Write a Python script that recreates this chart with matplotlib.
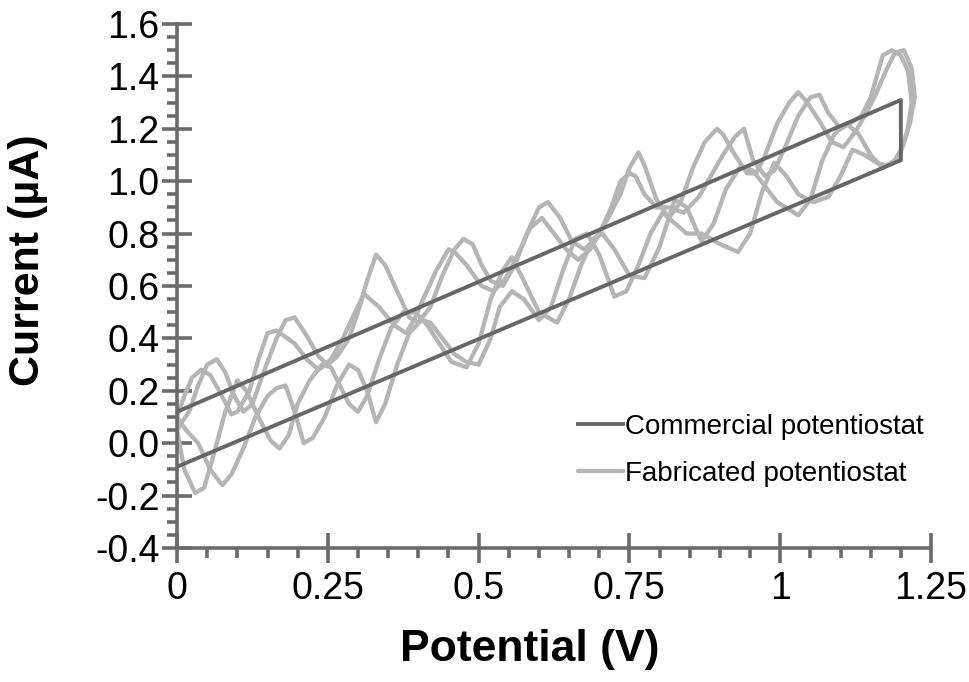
import matplotlib
matplotlib.use("Agg")
import matplotlib.pyplot as plt
from matplotlib.ticker import MultipleLocator, FixedLocator

plt.rcParams['font.family'] = ['Liberation Sans', 'DejaVu Sans']

# Commercial potentiostat: forward and reverse sweep
comm_v = [0.0, 1.2, 1.2, 0.0]
comm_i = [-0.09, 1.08, 1.31, 0.12]

# Fabricated potentiostat, cycle 1 forward sweep
fwd1_v = [0.000, 0.012, 0.030, 0.045, 0.060, 0.080, 0.100, 0.115, 0.135, 0.155, 0.170, 0.185,
          0.200, 0.220, 0.240, 0.255, 0.270, 0.285, 0.300, 0.315, 0.335, 0.355, 0.375, 0.395,
          0.415, 0.435, 0.455, 0.480, 0.500, 0.520, 0.540, 0.555, 0.575, 0.600, 0.630, 0.650,
          0.670, 0.690, 0.705, 0.725, 0.750, 0.775, 0.800, 0.825, 0.845, 0.860, 0.870, 0.890,
          0.910, 0.935, 0.955, 0.975, 0.995, 1.030, 1.050, 1.070, 1.090, 1.110, 1.130, 1.150,
          1.170, 1.190, 1.200]
fwd1_i = [0.05, -0.10, -0.19, -0.17, -0.05, 0.12, 0.24, 0.20, 0.10, 0.01, -0.02, 0.03,
          0.15, 0.24, 0.30, 0.29, 0.22, 0.15, 0.12, 0.18, 0.32, 0.44, 0.50, 0.50,
          0.45, 0.38, 0.31, 0.29, 0.38, 0.55, 0.66, 0.71, 0.62, 0.50, 0.46, 0.55,
          0.68, 0.78, 0.80, 0.74, 0.64, 0.63, 0.75, 0.93, 0.90, 0.82, 0.77, 0.84,
          0.97, 1.06, 1.04, 0.98, 0.92, 0.87, 0.93, 1.08, 1.18, 1.22, 1.18, 1.10,
          1.05, 1.08, 1.12]

# Fabricated potentiostat, cycle 1 reverse sweep
rev1_v = [1.200, 1.215, 1.223, 1.218, 1.205, 1.190, 1.175, 1.160, 1.145, 1.125, 1.105, 1.085,
          1.065, 1.045, 1.030, 1.015, 0.995, 0.975, 0.960, 0.945, 0.925, 0.905, 0.895, 0.875,
          0.855, 0.835, 0.815, 0.795, 0.775, 0.765, 0.750, 0.735, 0.715, 0.695, 0.675, 0.655,
          0.635, 0.615, 0.600, 0.580, 0.560, 0.540, 0.520, 0.505, 0.490, 0.475, 0.460, 0.440,
          0.420, 0.400, 0.385, 0.365, 0.345, 0.330, 0.315, 0.300, 0.285, 0.265, 0.250, 0.235,
          0.215, 0.195, 0.180, 0.165, 0.145, 0.125, 0.110, 0.095, 0.080, 0.066, 0.050, 0.035,
          0.020, 0.008, 0.000]
rev1_i = [1.12, 1.22, 1.32, 1.43, 1.50, 1.49, 1.42, 1.34, 1.27, 1.19, 1.13, 1.15,
          1.23, 1.30, 1.34, 1.30, 1.22, 1.10, 1.03, 1.03, 1.10, 1.18, 1.20, 1.15,
          1.05, 0.92, 0.86, 0.93, 1.06, 1.11, 1.05, 0.95, 0.86, 0.78, 0.74, 0.77,
          0.86, 0.92, 0.90, 0.80, 0.68, 0.60, 0.62, 0.68, 0.76, 0.78, 0.74, 0.64,
          0.52, 0.46, 0.48, 0.58, 0.68, 0.72, 0.62, 0.50, 0.40, 0.33, 0.30, 0.33,
          0.41, 0.48, 0.47, 0.40, 0.28, 0.15, 0.12, 0.18, 0.27, 0.32, 0.30, 0.22,
          0.12, 0.08, 0.05]

# Fabricated potentiostat, cycle 2 forward sweep
fwd2_v = [0.000, 0.015, 0.035, 0.055, 0.075, 0.090, 0.110, 0.130, 0.150, 0.165, 0.180, 0.195,
          0.210, 0.225, 0.245, 0.265, 0.285, 0.300, 0.315, 0.330, 0.345, 0.365, 0.385, 0.405,
          0.420, 0.440, 0.460, 0.480, 0.500, 0.520, 0.535, 0.555, 0.575, 0.600, 0.620, 0.640,
          0.660, 0.680, 0.700, 0.725, 0.745, 0.765, 0.785, 0.805, 0.825, 0.845, 0.870, 0.900,
          0.930, 0.950, 0.970, 0.990, 1.010, 1.030, 1.055, 1.080, 1.100, 1.120, 1.140, 1.160,
          1.175, 1.195]
fwd2_i = [0.10, 0.05, 0.00, -0.10, -0.16, -0.12, -0.02, 0.10, 0.18, 0.21, 0.22, 0.12,
          0.00, 0.02, 0.10, 0.22, 0.30, 0.28, 0.20, 0.08, 0.15, 0.30, 0.42, 0.47,
          0.46, 0.40, 0.34, 0.31, 0.30, 0.40, 0.52, 0.58, 0.55, 0.47, 0.52, 0.66,
          0.78, 0.80, 0.72, 0.56, 0.58, 0.68, 0.80, 0.88, 0.84, 0.80, 0.80, 0.76,
          0.73, 0.80, 0.96, 1.07, 1.02, 0.95, 0.92, 0.94, 1.02, 1.12, 1.10, 1.07,
          1.06, 1.08]

# Fabricated potentiostat, cycle 2 reverse sweep
rev2_v = [1.195, 1.210, 1.218, 1.212, 1.200, 1.185, 1.170, 1.160, 1.150, 1.135, 1.115, 1.100,
          1.080, 1.065, 1.050, 1.030, 1.010, 0.990, 0.975, 0.955, 0.940, 0.925, 0.905, 0.885,
          0.865, 0.840, 0.815, 0.795, 0.775, 0.760, 0.750, 0.735, 0.720, 0.700, 0.685, 0.665,
          0.645, 0.625, 0.605, 0.585, 0.565, 0.545, 0.525, 0.505, 0.480, 0.460, 0.450, 0.430,
          0.410, 0.395, 0.380, 0.360, 0.335, 0.310, 0.295, 0.275, 0.255, 0.235, 0.215, 0.195,
          0.165, 0.150, 0.135, 0.120, 0.100, 0.090, 0.070, 0.055, 0.040, 0.025, 0.012, 0.000]
rev2_i = [1.08, 1.18, 1.30, 1.42, 1.48, 1.50, 1.48, 1.40, 1.32, 1.25, 1.22, 1.20,
          1.26, 1.33, 1.32, 1.25, 1.14, 1.04, 1.02, 1.08, 1.20, 1.17, 1.10, 1.02,
          0.94, 0.88, 0.90, 0.90, 0.95, 1.02, 1.03, 1.00, 0.90, 0.80, 0.74, 0.70,
          0.74, 0.80, 0.86, 0.82, 0.72, 0.63, 0.58, 0.60, 0.68, 0.73, 0.74, 0.66,
          0.56, 0.48, 0.42, 0.45, 0.52, 0.57, 0.50, 0.40, 0.32, 0.28, 0.32, 0.38,
          0.43, 0.42, 0.32, 0.20, 0.12, 0.11, 0.20, 0.26, 0.28, 0.25, 0.18, 0.10]

x_ticks = [0, 0.25, 0.5, 0.75, 1, 1.25]
x_labels = ["0", "0.25", "0.5", "0.75", "1", "1.25"]
y_ticks = [-0.4, -0.2, 0.0, 0.2, 0.4, 0.6, 0.8, 1.0, 1.2, 1.4, 1.6]
y_labels = [f"{t:.1f}" for t in y_ticks]

axis_grey = "#6b6b6b"
comm_color = "#666666"
fab_color = "#b5b5b5"

fig = plt.figure(figsize=(9.70, 6.82), dpi=100)
ax = fig.add_axes([0.1825, 0.1965, 0.7773, 0.7683])

ax.plot(fwd1_v + rev1_v, fwd1_i + rev1_i, color=fab_color, lw=3.1,
        solid_joinstyle="round", solid_capstyle="round", zorder=2)
ax.plot(fwd2_v + rev2_v, fwd2_i + rev2_i, color=fab_color, lw=3.1,
        solid_joinstyle="round", solid_capstyle="round", zorder=2,
        label="Fabricated potentiostat")
ax.plot(comm_v, comm_i, color=comm_color, lw=2.8, zorder=3,
        label="Commercial potentiostat")

ax.set_xlim(0, 1.25)
ax.set_ylim(-0.4, 1.6)

for side in ("top", "right"):
    ax.spines[side].set_visible(False)
for side in ("left", "bottom"):
    ax.spines[side].set_color(axis_grey)
    ax.spines[side].set_linewidth(2.6)

ax.xaxis.set_major_locator(FixedLocator(x_ticks))
ax.set_xticklabels(x_labels)
ax.yaxis.set_major_locator(FixedLocator(y_ticks))
ax.set_yticklabels(y_labels)
ax.xaxis.set_minor_locator(MultipleLocator(0.05))
ax.yaxis.set_minor_locator(MultipleLocator(0.05))

ax.tick_params(which="major", direction="inout", length=21, width=2.6,
               color=axis_grey, labelsize=27, pad=2)
ax.tick_params(which="minor", direction="out", length=7, width=2.6,
               color=axis_grey)
ax.tick_params(axis="x", which="major", pad=6)

ax.set_xlabel("Potential (V)", fontsize=32, fontweight="bold")
ax.set_ylabel("Current (µA)", fontsize=31, fontweight="bold")
ax.xaxis.set_label_coords(0.468, -0.155)
ax.yaxis.set_label_coords(-0.171, 0.55)

handles, labels = ax.get_legend_handles_labels()
order = [labels.index("Commercial potentiostat"), labels.index("Fabricated potentiostat")]
ax.legend([handles[k] for k in order], [labels[k] for k in order],
          loc="upper left", bbox_to_anchor=(0.532, 0.256), frameon=False,
          fontsize=20, handlelength=1.6, handletextpad=0.1, labelspacing=0.75,
          borderpad=0, borderaxespad=0)

fig.savefig("out.png", dpi=100)
